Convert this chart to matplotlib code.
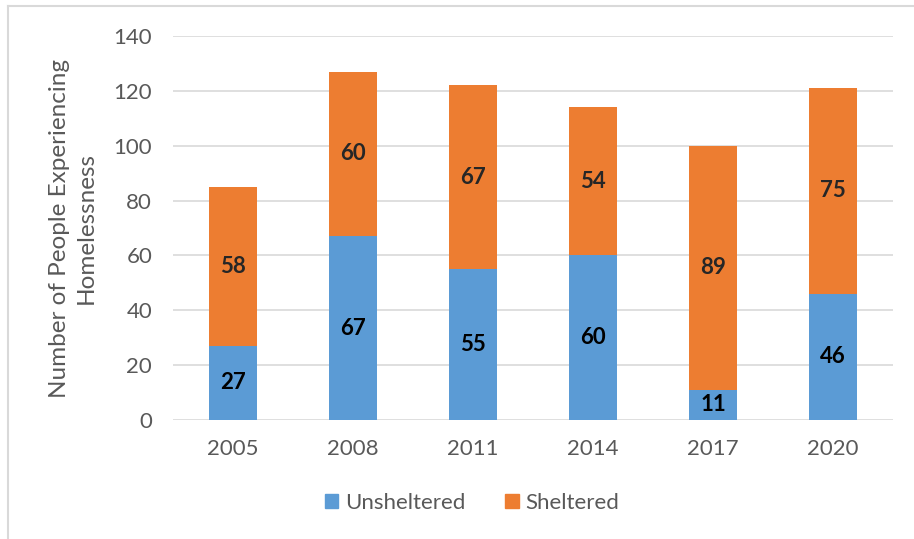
import matplotlib
matplotlib.use("Agg")
import matplotlib.pyplot as plt
from matplotlib.lines import Line2D
from matplotlib.patches import Patch

years = ["2005", "2008", "2011", "2014", "2017", "2020"]
unsheltered = [27, 67, 55, 60, 11, 46]
sheltered = [58, 60, 67, 54, 89, 75]

blue = "#5b9bd5"
orange = "#ed7d31"
grey = "#595959"

plt.rcParams["font.family"] = ["Lato", "DejaVu Sans"]

fig = plt.figure(figsize=(9.14, 5.39), dpi=100)
ax = fig.add_axes([173 / 914, 119 / 539, 720 / 914, 384 / 539])

x = range(len(years))
b1 = ax.bar(x, unsheltered, width=0.4, color=blue, zorder=3)
b2 = ax.bar(x, sheltered, width=0.4, bottom=unsheltered, color=orange, zorder=3)

for i in x:
    ax.text(i, unsheltered[i] / 2, str(unsheltered[i]), ha="center", va="center",
            fontsize=16, fontweight="bold", color="black", zorder=4)
    ax.text(i, unsheltered[i] + sheltered[i] / 2, str(sheltered[i]), ha="center",
            va="center", fontsize=16, fontweight="bold", color="#262626", zorder=4)

ax.set_xlim(-0.5, 5.5)
ax.set_ylim(0, 140)
ax.set_yticks(range(0, 141, 20))
ax.set_xticks(list(x))
ax.set_xticklabels(years)
ax.yaxis.grid(True, color="#d9d9d9", linewidth=1.2)
ax.set_axisbelow(True)
for s in ax.spines.values():
    s.set_visible(False)
ax.tick_params(axis="both", length=0, labelsize=16, labelcolor=grey)
ax.tick_params(axis="y", pad=15)
ax.tick_params(axis="x", pad=14)
ax.set_ylabel("Number of People Experiencing\nHomelessness", fontsize=17.5,
              color=grey, labelpad=12, linespacing=1.35)

handles = [Patch(color=blue), Patch(color=orange)]
fig.legend(handles, ["Unsheltered", "Sheltered"], loc="center",
           bbox_to_anchor=(472 / 914, 1 - 503 / 539), ncol=2, frameon=False,
           fontsize=16, labelcolor=grey, handlelength=0.6, handleheight=0.6,
           handletextpad=0.3, columnspacing=1.8)

# chart border (cropped on right and bottom)
fig.add_artist(Line2D([8 / 914, 8 / 914], [0, 1 - 6 / 539], color="#d9d9d9", lw=1.5))
fig.add_artist(Line2D([8 / 914, 1], [1 - 6 / 539, 1 - 6 / 539], color="#d9d9d9", lw=1.5))

fig.savefig("out.png", dpi=100)
